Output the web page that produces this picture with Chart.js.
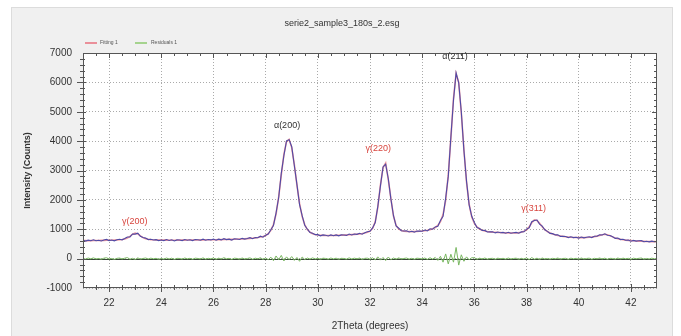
<!DOCTYPE html>
<html>
<head>
<meta charset="utf-8">
<title>serie2_sample3_180s_2.esg</title>
<script src="https://cdn.jsdelivr.net/npm/chart.js@4.4.0/dist/chart.umd.min.js"></script>
<style>
    html, body { margin: 0; padding: 0; background: #fff; }
    #wrap { width: 681px; height: 336px; }
</style>
</head>
<body>
<div id="wrap"><canvas id="xrdChart" width="681" height="336"></canvas></div>
<script>
// 2Theta positions (degrees)
const twoTheta = [
    21.0,21.1,21.2,21.3,21.4,21.5,21.6,21.7,21.8,21.9,
    22.0,22.1,22.2,22.3,22.4,22.5,22.6,22.7,22.8,22.9,
    23.0,23.1,23.2,23.3,23.4,23.5,23.6,23.7,23.8,23.9,
    24.0,24.1,24.2,24.3,24.4,24.5,24.6,24.7,24.8,24.9,
    25.0,25.1,25.2,25.3,25.4,25.5,25.6,25.7,25.8,25.9,
    26.0,26.1,26.2,26.3,26.4,26.5,26.6,26.7,26.8,26.9,
    27.0,27.1,27.2,27.3,27.4,27.5,27.6,27.7,27.8,27.9,
    28.0,28.1,28.2,28.3,28.4,28.5,28.6,28.7,28.8,28.9,
    29.0,29.1,29.2,29.3,29.4,29.5,29.6,29.7,29.8,29.9,
    30.0,30.1,30.2,30.3,30.4,30.5,30.6,30.7,30.8,30.9,
    31.0,31.1,31.2,31.3,31.4,31.5,31.6,31.7,31.8,31.9,
    32.0,32.1,32.2,32.3,32.4,32.5,32.6,32.7,32.8,32.9,
    33.0,33.1,33.2,33.3,33.4,33.5,33.6,33.7,33.8,33.9,
    34.0,34.1,34.2,34.3,34.4,34.5,34.6,34.7,34.8,34.9,
    35.0,35.1,35.2,35.3,35.4,35.5,35.6,35.7,35.8,35.9,
    36.0,36.1,36.2,36.3,36.4,36.5,36.6,36.7,36.8,36.9,
    37.0,37.1,37.2,37.3,37.4,37.5,37.6,37.7,37.8,37.9,
    38.0,38.1,38.2,38.3,38.4,38.5,38.6,38.7,38.8,38.9,
    39.0,39.1,39.2,39.3,39.4,39.5,39.6,39.7,39.8,39.9,
    40.0,40.1,40.2,40.3,40.4,40.5,40.6,40.7,40.8,40.9,
    41.0,41.1,41.2,41.3,41.4,41.5,41.6,41.7,41.8,41.9,
    42.0,42.1,42.2,42.3,42.4,42.5,42.6,42.7,42.8,42.9,
    43.0
];

// Measured intensity (counts)
const observed = [
    625,597,630,607,640,607,623,600,637,653,
    615,632,605,644,660,640,683,735,740,840,
    835,865,760,720,698,648,661,635,646,613,
    636,615,649,618,643,603,638,634,615,651,
    627,643,614,650,641,627,663,625,651,637,
    664,625,662,638,680,647,664,631,674,667,
    651,690,665,686,713,676,721,713,764,731,
    800,840,985,1130,1560,2080,2900,3510,4010,4050,
    3810,3170,2520,1840,1460,1135,1000,892,862,816,
    816,777,807,794,773,808,779,806,774,807,
    806,791,836,807,839,827,862,830,882,912,
    930,1045,1228,1780,2475,3120,3218,2728,2032,1460,
    1115,1035,950,941,945,906,930,902,941,937,
    930,971,941,1016,1000,1080,1100,1300,1440,2060,
    2800,4150,5400,6320,5980,4990,3680,2630,1830,1440,
    1230,1060,1025,958,960,907,915,912,876,906,
    882,893,864,896,864,879,892,865,910,913,
    1005,1050,1255,1300,1315,1175,1105,980,927,860,
    850,807,810,757,762,755,715,742,716,727,
    699,734,706,725,742,717,760,762,810,805,
    843,795,790,745,690,698,648,658,626,632,
    594,622,596,606,612,573,590,572,595,573,
    586
];

// Fitting 1
const fitting = [
    615,612,610,612,615,617,618,620,622,623,
    625,627,630,634,640,650,668,700,760,830,
    865,840,775,715,678,658,646,640,636,633,
    631,630,629,628,628,628,628,629,630,631,
    632,633,634,635,636,637,638,640,641,642,
    644,645,647,648,650,652,654,656,659,662,
    666,670,675,681,688,696,706,718,734,756,
    790,850,960,1160,1520,2100,2850,3550,3980,4060,
    3780,3200,2500,1880,1430,1150,990,900,850,822,
    806,797,792,789,788,788,789,791,794,797,
    801,806,811,817,824,832,842,855,872,897,
    940,1030,1250,1750,2500,3100,3250,2700,2050,1450,
    1130,1010,960,936,925,921,920,922,926,932,
    940,951,966,986,1015,1060,1130,1260,1500,1980,
    2850,4100,5450,6300,6000,4950,3700,2600,1850,1420,
    1200,1080,1010,968,940,922,910,902,896,891,
    887,883,879,876,874,874,877,885,900,928,
    980,1080,1220,1320,1300,1200,1085,990,922,875,
    840,812,790,772,757,745,735,727,721,717,
    714,714,716,720,727,737,750,767,790,815,
    828,815,780,740,705,678,658,643,631,622,
    614,607,601,596,592,588,585,582,580,578,
    576
];

// Residuals 1
const residuals = [
    10,-15,20,-5,25,-10,5,-20,15,30,
    -10,5,-25,10,20,-10,15,35,-20,10,
    -30,25,-15,5,20,-10,15,-5,10,-20,
    5,-15,20,-10,15,-25,10,5,-15,20,
    -5,10,-20,15,5,-10,25,-15,10,-5,
    20,-20,15,-10,30,-5,10,-25,15,5,
    -15,20,-10,5,25,-20,15,-5,30,-25,
    20,-35,50,-70,90,-40,110,-80,60,-30,
    70,-60,40,-90,55,-30,20,-15,25,-10,
    10,-20,15,5,-15,20,-10,15,-20,10,
    5,-15,25,-10,15,-5,20,-25,10,15,
    -20,30,-45,60,-50,40,-65,55,-35,20,
    -15,25,-10,5,20,-15,10,-20,15,5,
    -10,20,-25,30,-15,40,-60,80,-120,160,
    -180,150,-120,380,-220,130,-90,60,-40,30,
    30,-20,15,-10,20,-15,5,10,-20,15,
    -5,10,-15,20,-10,5,15,-20,10,-15,
    25,-30,35,-20,15,-25,20,-10,5,-15,
    10,-5,20,-15,5,10,-20,15,-5,10,
    -15,20,-10,5,15,-20,10,-5,20,-10,
    15,-20,10,5,-15,20,-10,15,-5,10,
    -20,15,-5,10,20,-15,5,-10,15,-5,
    10
];

const xTicks = [22, 24, 26, 28, 30, 32, 34, 36, 38, 40, 42];
const yTicks = [-1000, 0, 1000, 2000, 3000, 4000, 5000, 6000, 7000];

// Peak labels (text anchored in data coordinates)
const peakNames = ['γ(200)', 'α(200)', 'γ(220)', 'α(211)', 'γ(311)'];
const peakX = [22.98, 28.82, 32.32, 35.26, 38.27];
const peakY = [1250, 4520, 3760, 6870, 1690];

const FONT = "'Liberation Sans', Arial, sans-serif";

const toPoints = (ys) => ys.map((y, i) => ({ x: twoTheta[i], y }));

// Panel, frame, ticks, title, legend and peak labels
const xrdFrame = {
    id: 'xrdFrame',
    beforeDraw(chart) {
        const { ctx, chartArea: a } = chart;
        ctx.save();
        ctx.fillStyle = '#ffffff';
        ctx.fillRect(0, 0, chart.width, chart.height);
        ctx.fillStyle = '#f0f0f0';
        ctx.fillRect(12, 8, 660, chart.height - 8);
        ctx.strokeStyle = '#dcdcdc';
        ctx.lineWidth = 1;
        ctx.strokeRect(11.5, 7.5, 661, chart.height);
        ctx.fillStyle = '#ffffff';
        ctx.fillRect(a.left, a.top, a.right - a.left, a.bottom - a.top);
        ctx.restore();
    },
    beforeDatasetsDraw(chart) {
        const { ctx, chartArea: a, scales: { y } } = chart;
        const py = Math.round(y.getPixelForValue(0)) + 0.5;
        ctx.save();
        ctx.strokeStyle = '#384838';
        ctx.lineWidth = 1;
        ctx.beginPath();
        ctx.moveTo(a.left, py);
        ctx.lineTo(a.right, py);
        ctx.stroke();
        ctx.restore();
    },
    afterDraw(chart) {
        const { ctx, chartArea: a, scales: { x, y } } = chart;
        ctx.save();

        // plot frame
        ctx.strokeStyle = '#555';
        ctx.lineWidth = 1;
        ctx.strokeRect(a.left + 0.5, a.top + 0.5, a.right - a.left - 1, a.bottom - a.top - 1);

        // major and minor ticks on all four sides
        ctx.beginPath();
        for (let i = 0; i <= 44; i++) {
            const v = 21 + i * 0.5;
            if (v <= 21 || v >= 43) continue;
            const major = xTicks.includes(v);
            const px = Math.round(x.getPixelForValue(v)) + 0.5;
            ctx.moveTo(px, a.bottom - (major ? 4 : 3));
            ctx.lineTo(px, a.bottom + (major ? 4 : 2));
            ctx.moveTo(px, a.top);
            ctx.lineTo(px, a.top + (major ? 5 : 3));
        }
        for (let i = 0; i <= 40; i++) {
            const v = -1000 + i * 200;
            if (v <= -1000 || v >= 7000) continue;
            const major = v % 1000 === 0;
            const py = Math.round(y.getPixelForValue(v)) + 0.5;
            ctx.moveTo(a.left - (major ? 6 : 3), py);
            ctx.lineTo(a.left + (major ? 3 : 2), py);
            ctx.moveTo(a.right, py);
            ctx.lineTo(a.right - (major ? 5 : 3), py);
        }
        ctx.stroke();

        // title
        ctx.fillStyle = '#333';
        ctx.font = '9px ' + FONT;
        ctx.textAlign = 'center';
        ctx.textBaseline = 'middle';
        ctx.fillText('serie2_sample3_180s_2.esg', 342, 24);

        // legend
        ctx.lineWidth = 1.5;
        ctx.strokeStyle = '#e8707e';
        ctx.beginPath();
        ctx.moveTo(85, 43);
        ctx.lineTo(97, 43);
        ctx.stroke();
        ctx.strokeStyle = '#8cca6e';
        ctx.beginPath();
        ctx.moveTo(135, 43);
        ctx.lineTo(147, 43);
        ctx.stroke();
        ctx.fillStyle = '#555';
        ctx.font = '5px ' + FONT;
        ctx.textAlign = 'left';
        ctx.fillText('Fitting 1', 100, 42.5);
        ctx.fillText('Residuals 1', 151, 42.5);

        // peak labels
        ctx.font = '9px ' + FONT;
        ctx.textAlign = 'center';
        peakNames.forEach((name, i) => {
            ctx.fillStyle = name.startsWith('γ') ? '#d8453e' : '#333';
            ctx.fillText(name, x.getPixelForValue(peakX[i]), y.getPixelForValue(peakY[i]));
        });

        ctx.restore();
    }
};

new Chart(document.getElementById('xrdChart'), {
    type: 'line',
    data: {
        datasets: [{
            label: 'Observed',
            data: toPoints(observed),
            borderColor: '#4e4aa6',
            borderWidth: 1.1,
            pointRadius: 0,
            tension: 0
        }, {
            label: 'Fitting 1',
            data: toPoints(fitting),
            borderColor: 'rgba(228, 80, 90, 0.6)',
            borderWidth: 1.6,
            pointRadius: 0,
            tension: 0
        }, {
            label: 'Residuals 1',
            data: toPoints(residuals),
            borderColor: '#7ab862',
            borderWidth: 1,
            pointRadius: 0,
            tension: 0
        }]
    },
    options: {
        responsive: false,
        animation: false,
        devicePixelRatio: 1,
        layout: { padding: { left: 12, right: 24, top: 53, bottom: 0 } },
        plugins: {
            legend: { display: false },
            tooltip: { enabled: false }
        },
        scales: {
            x: {
                type: 'linear',
                min: 21,
                max: 43,
                afterBuildTicks: (scale) => { scale.ticks = xTicks.map(v => ({ value: v })); },
                afterFit: (scale) => { scale.height = 48; },
                ticks: {
                    padding: 9,
                    color: '#333',
                    font: { family: FONT, size: 10 },
                    callback: (v) => String(v)
                },
                grid: {
                    color: '#aaaaaa',
                    lineWidth: 1,
                    drawTicks: false
                },
                border: { display: false, dash: [1, 2] },
                title: {
                    display: true,
                    text: '2Theta (degrees)',
                    color: '#333',
                    font: { family: FONT, size: 10 },
                    padding: { top: 0, bottom: 4 }
                }
            },
            y: {
                type: 'linear',
                min: -1000,
                max: 7000,
                afterBuildTicks: (scale) => { scale.ticks = yTicks.map(v => ({ value: v })); },
                afterFit: (scale) => { scale.width = 71; },
                ticks: {
                    padding: 11,
                    color: '#333',
                    font: { family: FONT, size: 10 },
                    callback: (v) => String(v)
                },
                grid: {
                    color: '#aaaaaa',
                    lineWidth: 1,
                    drawTicks: false
                },
                border: { display: false, dash: [1, 2] },
                title: {
                    display: true,
                    text: 'Intensity (Counts)',
                    color: '#333',
                    font: { family: FONT, size: 9, weight: 'bold' },
                    padding: { top: 10, bottom: 0 }
                }
            }
        }
    },
    plugins: [xrdFrame]
});
</script>
</body>
</html>
